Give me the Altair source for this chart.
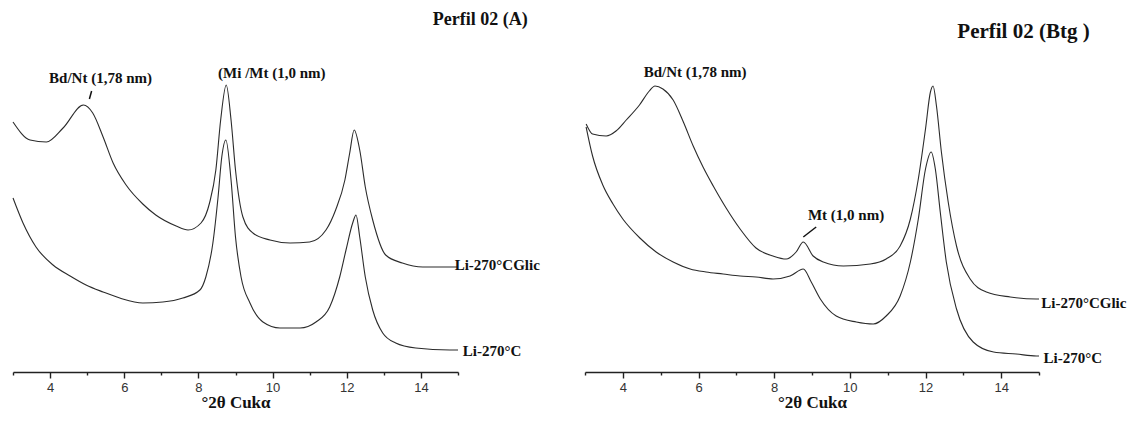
import altair as alt
import pandas as pd

# ---------------- data ----------------
# Left panel: Perfil 02 (A)
a_glic_x = [3.0, 3.46, 3.9, 4.35, 4.9, 5.15, 5.43, 5.7, 6.05, 6.5, 6.85, 7.4, 7.72, 8.07, 8.3, 8.47, 8.6, 8.75,
            8.88, 9.0, 9.2, 9.47, 9.93, 10.47, 11.0, 11.44, 11.7, 11.95, 12.08, 12.2, 12.35, 12.5, 12.7, 13.05,
            13.5, 14.05, 14.78, 15.0]
a_glic_y = [250, 232, 230, 244, 267, 259, 235, 209, 187, 168, 157, 146, 142, 149, 169, 202, 252, 287,
            252, 202, 155, 139, 132, 129, 130, 142, 162, 192, 219, 242, 222, 185, 152, 117,
            109, 105, 105, 105]
a_c_x = [3.0, 3.27, 3.62, 4.08, 4.54, 4.97, 5.43, 5.88, 6.5, 7.04, 7.58, 8.04, 8.2, 8.39, 8.53, 8.63, 8.74,
         8.88, 9.0, 9.15, 9.39, 9.74, 10.2, 10.74, 11.17, 11.54, 11.81, 11.98, 12.16, 12.25, 12.35, 12.5,
         12.7, 12.97, 13.32, 13.86, 14.78, 15.0]
a_c_y = [174, 149, 125, 107, 96, 87, 80, 74, 69, 70, 74, 82, 95, 129, 175, 215, 232,
         192, 135, 95, 69, 50, 44, 44, 50, 65, 95, 122, 149, 157, 135, 95,
         62, 39, 29, 24, 22, 22]

# Right panel: Perfil 02 (Btg)
b_glic_x = [3.03, 3.2, 3.56, 3.82, 4.09, 4.44, 4.7, 4.85, 5.06, 5.33, 5.6, 5.86, 6.12, 6.39, 6.73, 7.1, 7.52,
            7.97, 8.32, 8.58, 8.77, 9.03, 9.3, 9.83, 10.54, 10.96, 11.33, 11.6, 11.81, 12.0, 12.13, 12.2,
            12.29, 12.42, 12.6, 12.82, 13.18, 13.61, 14.24, 14.93, 15.0]
b_glic_y = [248, 238, 236, 241, 252, 267, 281, 286, 283, 272, 250, 226, 205, 186, 164, 143, 124,
            116, 113, 120, 130, 116, 110, 106, 108, 113, 126, 153, 193, 243, 280, 286,
            266, 220, 170, 126, 93, 80, 75, 73, 73]
b_c_x = [3.03, 3.2, 3.47, 3.74, 4.0, 4.45, 4.88, 5.33, 5.78, 6.2, 6.65, 7.1, 7.52, 7.97, 8.42, 8.77,
         8.98, 9.22, 9.64, 10.17, 10.62, 10.96, 11.33, 11.6, 11.81, 12.0, 12.15, 12.26, 12.39, 12.55,
         12.82, 13.26, 13.8, 14.4, 14.93, 15.0]
b_c_y = [245, 216, 187, 168, 153, 134, 120, 110, 103, 100, 98, 96, 95, 93, 96, 103,
         90, 73, 56, 50, 48, 56, 76, 110, 153, 203, 220, 203, 160, 110,
         63, 30, 20, 18, 16, 16]

series_names = ["Li-270°CGlic", "Li-270°C"]
x_ticks = list(range(3, 16))
axis_title = "°2θ Cukα"

# annotation texts and their data positions
a_title = ["Perfil 02 (A)"]
a_title_x = [15.6]
a_title_y = [352]
a_note = ["Bd/Nt (1,78 nm)", "(Mi /Mt (1,0 nm)"]
a_note_x = [5.36, 9.98]
a_note_y = [294, 299]
a_lead_x = [5.12]
a_lead_x2 = [5.06]
a_lead_y = [281]
a_lead_y2 = [273]
a_lab_x = [14.91, 15.13]
a_lab_y = [107, 21]

b_title = ["Perfil 02 (Btg )"]
b_title_x = [14.59]
b_title_y = [340]
b_note = ["Bd/Nt (1,78 nm)", "Mt (1,0 nm)"]
b_note_x = [5.91, 9.9]
b_note_y = [300, 157]
b_lead_x = [8.77]
b_lead_x2 = [9.11]
b_lead_y = [135]
b_lead_y2 = [145]
b_lab_x = [15.06, 15.12]
b_lab_y = [69, 14]

SERIF = "Liberation Serif"
SANS = "Liberation Sans"
INK = "#2b2b2b"


def panel(gx, gy, cx, cy, title, tx, ty, tsize, notes, nx, ny, lx, lx2, ly, ly2, labx, laby, width):
    curves = pd.concat([
        pd.DataFrame({"x": gx, "y": gy, "s": series_names[0]}),
        pd.DataFrame({"x": cx, "y": cy, "s": series_names[1]}),
    ])
    X = alt.X("x:Q", scale=alt.Scale(domain=[3, 15], nice=False, zero=False),
              axis=alt.Axis(values=x_ticks, labelExpr="datum.value % 2 == 0 ? datum.label : ''",
                            tickSize={"condition": {"test": "datum.value % 2 == 0", "value": 6}, "value": 3},
                            title=axis_title, grid=False, titleFont=SERIF, titleFontWeight="bold",
                            titleFontSize=17, labelFont=SANS))
    Y = alt.Y("y:Q", scale=alt.Scale(domain=[0, 372], nice=False, zero=False), axis=None)

    lines = alt.Chart(curves).mark_line(color=INK, strokeWidth=1.1, interpolate="monotone").encode(
        x=X, y=Y, detail="s:N")
    ttl = alt.Chart(pd.DataFrame({"x": tx, "y": ty, "t": title})).mark_text(
        font=SERIF, fontWeight="bold", fontSize=tsize, color="#111", align="center", baseline="middle"
    ).encode(x=X, y=Y, text="t:N")
    nts = alt.Chart(pd.DataFrame({"x": nx, "y": ny, "t": notes})).mark_text(
        font=SERIF, fontWeight="bold", fontSize=15, color="#111", align="center", baseline="middle"
    ).encode(x=X, y=Y, text="t:N")
    lead = alt.Chart(pd.DataFrame({"x": lx, "x2": lx2, "y": ly, "y2": ly2})).mark_rule(
        color="#111", strokeWidth=1.5).encode(x=X, x2="x2:Q", y=Y, y2="y2:Q")
    labs = alt.Chart(pd.DataFrame({"x": labx, "y": laby, "t": series_names})).mark_text(
        font=SERIF, fontWeight="bold", fontSize=15, color="#111", align="left", baseline="middle"
    ).encode(x=X, y=Y, text="t:N")
    return alt.layer(lines, lead, nts, ttl, labs).properties(width=width, height=372)


left = panel(a_glic_x, a_glic_y, a_c_x, a_c_y, a_title, a_title_x, a_title_y, 18, a_note, a_note_x, a_note_y,
             a_lead_x, a_lead_x2, a_lead_y, a_lead_y2, a_lab_x, a_lab_y, 445)
right = panel(b_glic_x, b_glic_y, b_c_x, b_c_y, b_title, b_title_x, b_title_y, 21, b_note, b_note_x, b_note_y,
              b_lead_x, b_lead_x2, b_lead_y, b_lead_y2, b_lab_x, b_lab_y, 454)

chart = alt.hconcat(left, right, spacing=127, bounds="flush").properties(
    padding={"left": 10, "top": 0, "right": 0, "bottom": 0},
    background="white",
).configure_view(stroke=None).configure_axis(
    domainColor="#222", domainWidth=1.6, tickColor="#222", tickWidth=1.4,
    labelFont=SANS, labelFontSize=13, labelColor="#333", labelPadding=3,
    titleFont=SERIF, titleFontWeight="bold", titleFontSize=17, titleColor="#111", titlePadding=0,
)

chart.save("out.html", embed_options={"renderer": "svg", "actions": False})
